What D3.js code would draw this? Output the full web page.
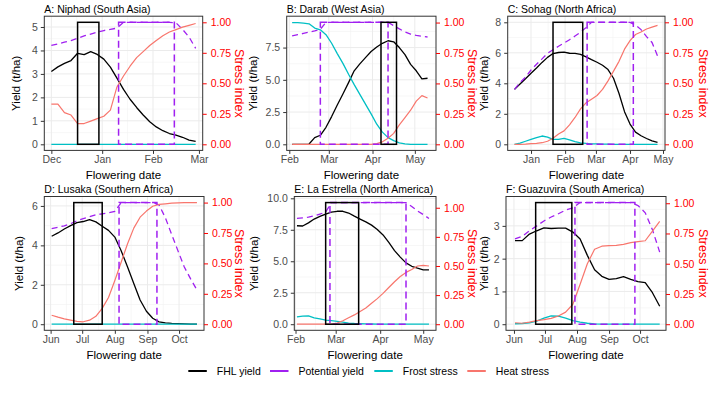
<!DOCTYPE html>
<html>
<head>
<meta charset="utf-8">
<script src="https://cdn.jsdelivr.net/npm/d3@7"></script>
<style>
  body { margin: 0; background: #fff; }
  svg { display: block; font-family: "Liberation Sans", Arial, sans-serif; }
</style>
</head>
<body>
<svg id="chart"></svg>
<script>
const width = 720;
const height = 396;

// ---- data ----
const titles = [
  'A: Niphad (South Asia)', 'B: Darab (West Asia)', 'C: Sohag (North Africa)',
  'D: Lusaka (Southern Africa)', 'E: La Estrella (North America)', 'F: Guazuvira (South America)'
];
const refDates = ['2000-12-01', '2001-02-01', '2001-01-01', '2001-06-01', '2001-02-01', '2001-06-01'];
// first flowering date (days after ref date) and spacing of the series, in days
const dataStart = [0, 2, -15, 1, 1, 1];
const dataStep = [4, 4, 5, 6, 4, 7];
// yield (t/ha) that corresponds to a stress index of 1
const stressScale = [5.2, 9.44, 8, 6.17, 9.25, 3.69];
const yTicks = [[0, 1, 2, 3, 4, 5], [0, 2.5, 5, 7.5], [0, 2, 4, 6, 8], [0, 2, 4, 6], [0, 2.5, 5, 7.5, 10], [0, 1, 2, 3]];
const stressTicks = [0, 0.25, 0.5, 0.75, 1];
const fhlWindows = [
  ['2000-12-17', '2000-12-30'], ['2001-04-07', '2001-04-18'], ['2001-01-21', '2001-02-17'],
  ['2001-06-23', '2001-07-20'], ['2001-02-22', '2001-03-17'], ['2001-06-22', '2001-07-27']
];
const potWindows = [
  ['2001-01-11', '2001-02-14'], ['2001-02-23', '2001-04-12'], ['2001-02-21', '2001-04-04'],
  ['2001-08-05', '2001-09-10'], ['2001-02-25', '2001-04-19'], ['2001-07-30', '2001-09-26']
];
const seriesNames = ['FHL yield', 'Potential yield', 'Frost stress', 'Heat stress'];

const fhlA = [3.1, 3.3, 3.45, 3.57, 3.88, 3.82, 3.95, 3.83, 3.63, 3.29, 2.82, 2.34, 1.92, 1.57, 1.25, 0.96, 0.74, 0.58, 0.46, 0.39, 0.3, 0.18, 0.12];
const potA = [4.22, 4.28, 4.35, 4.42, 4.52, 4.62, 4.7, 4.78, 4.85, 4.9, 4.95, 5.2, 5.2, 5.2, 5.2, 5.2, 5.2, 5.2, 5.2, 5.18, 4.9, 4.57, 4.09];
const frostA = [0, 0, 0, 0, 0, 0, 0, 0, 0, 0, 0, 0, 0, 0, 0, 0, 0, 0, 0, 0, 0, 0, 0];
const heatA = [0.33, 0.33, 0.26, 0.24, 0.17, 0.17, 0.19, 0.21, 0.23, 0.28, 0.47, 0.56, 0.64, 0.71, 0.76, 0.81, 0.85, 0.89, 0.92, 0.94, 0.96, 0.975, 0.99];

const fhlB = [0, 0, 0, 0.02, 0.52, 0.7, 1.32, 2.15, 3.05, 3.9, 4.78, 5.7, 6.24, 6.72, 7.2, 7.55, 7.83, 8.03, 7.95, 7.5, 6.95, 6.2, 5.7, 5.07, 5.12];
const potB = [8.4, 8.5, 8.6, 8.7, 8.8, 8.92, 9.46, 9.46, 9.46, 9.46, 9.46, 9.46, 9.46, 9.46, 9.46, 9.46, 9.46, 9.46, 9.2, 8.95, 8.72, 8.55, 8.45, 8.38, 8.32];
const frostB = [1, 1, 0.995, 0.99, 0.955, 0.94, 0.9, 0.83, 0.745, 0.665, 0.575, 0.49, 0.41, 0.33, 0.25, 0.165, 0.1, 0.055, 0.03, 0.012, 0.004, 0, 0, 0, 0];
const heatB = [0, 0, 0, 0, 0, 0, 0, 0, 0, 0, 0, 0, 0, 0, 0, 0.005, 0.02, 0.05, 0.09, 0.16, 0.22, 0.28, 0.355, 0.4, 0.38];

const fhlC = [3.6, 3.95, 4.3, 4.66, 5.0, 5.37, 5.7, 5.95, 6.02, 6.05, 5.97, 5.96, 5.9, 5.73, 5.55, 5.38, 5.18, 4.9, 4.33, 3.33, 2.14, 1.33, 0.8, 0.56, 0.38, 0.22, 0.12];
const potC = [3.6, 4.05, 4.4, 4.87, 5.25, 5.6, 5.97, 6.2, 6.43, 6.64, 6.86, 7.1, 7.35, 7.65, 8, 8, 8, 8, 8, 8, 8, 8, 7.82, 7.52, 7.06, 6.68, 5.8];
const frostC = [0, 0.01, 0.025, 0.04, 0.055, 0.068, 0.058, 0.04, 0.04, 0.048, 0.036, 0.022, 0.012, 0.007, 0.004, 0.003, 0.002, 0.001, 0, 0, 0, 0, 0, 0, 0, 0, 0];
const heatC = [0, 0, 0.002, 0.005, 0.008, 0.013, 0.025, 0.05, 0.085, 0.11, 0.16, 0.22, 0.29, 0.34, 0.37, 0.4, 0.45, 0.52, 0.6, 0.68, 0.78, 0.85, 0.9, 0.92, 0.945, 0.96, 0.975];

const fhlD = [4.46, 4.63, 4.83, 5.0, 5.15, 5.21, 5.31, 5.19, 4.97, 4.76, 4.42, 3.73, 2.92, 2.07, 1.23, 0.66, 0.3, 0.12, 0.07, 0.04, 0.025, 0.015, 0.005, 0];
const potD = [4.85, 4.92, 4.99, 5.1, 5.25, 5.36, 5.45, 5.55, 5.6, 5.65, 5.72, 6.17, 6.17, 6.17, 6.17, 6.17, 6.17, 6.05, 5.4, 4.55, 3.72, 2.9, 2.3, 1.74];
const frostD = [0, 0, 0, 0, 0, 0, 0, 0, 0, 0, 0, 0, 0, 0, 0, 0, 0, 0, 0, 0, 0, 0, 0, 0];
const heatD = [0.074, 0.058, 0.044, 0.034, 0.024, 0.02, 0.033, 0.065, 0.13, 0.22, 0.36, 0.51, 0.66, 0.79, 0.88, 0.93, 0.97, 0.985, 0.99, 0.995, 0.997, 1, 1, 1];

const fhlE = [7.82, 7.8, 8.05, 8.35, 8.56, 8.75, 8.9, 8.97, 8.97, 8.83, 8.58, 8.35, 8.13, 7.87, 7.52, 7.09, 6.5, 5.85, 5.33, 4.87, 4.6, 4.45, 4.32, 4.32];
const potE = [8.4, 8.45, 8.5, 8.6, 8.75, 8.9, 9.66, 9.66, 9.66, 9.66, 9.66, 9.66, 9.66, 9.66, 9.66, 9.66, 9.66, 9.66, 9.66, 9.66, 9.35, 9.0, 8.71, 8.4];
const frostE = [0.063, 0.07, 0.072, 0.055, 0.045, 0.035, 0.03, 0.024, 0.018, 0.01, 0.006, 0.004, 0.003, 0.002, 0.001, 0, 0, 0, 0, 0, 0, 0, 0, 0];
const heatE = [0, 0, 0, 0, 0, 0, 0.002, 0.01, 0.03, 0.055, 0.08, 0.11, 0.14, 0.18, 0.22, 0.265, 0.315, 0.365, 0.41, 0.445, 0.47, 0.5, 0.505, 0.5];

const fhlF = [2.55, 2.55, 2.75, 2.85, 2.94, 2.92, 2.93, 2.93, 2.81, 2.6, 2.1, 1.66, 1.46, 1.37, 1.39, 1.45, 1.37, 1.3, 1.27, 0.96, 0.55];
const potF = [2.6, 2.68, 2.85, 3.0, 3.15, 3.27, 3.37, 3.48, 3.55, 3.71, 3.71, 3.71, 3.71, 3.71, 3.71, 3.71, 3.71, 3.62, 3.4, 2.88, 2.2];
const frostF = [0.004, 0.006, 0.012, 0.025, 0.05, 0.068, 0.066, 0.05, 0.03, 0.018, 0.008, 0.003, 0.001, 0, 0, 0, 0, 0, 0, 0, 0];
const heatF = [0.012, 0.008, 0.018, 0.03, 0.038, 0.048, 0.068, 0.1, 0.165, 0.33, 0.5, 0.62, 0.645, 0.65, 0.652, 0.66, 0.674, 0.683, 0.69, 0.77, 0.85];

const fhl = [fhlA, fhlB, fhlC, fhlD, fhlE, fhlF];
const pot = [potA, potB, potC, potD, potE, potF];
const frost = [frostA, frostB, frostC, frostD, frostE, frostF];
const heat = [heatA, heatB, heatC, heatD, heatE, heatF];

// ---- layout ----
const row1 = {y0: 16.2, y1: 150.4};
const row2 = {y0: 196.5, y1: 330.3};
// panel box in px, x extent in days after the ref date, axis title positions
const layout = [
  {x0: 44.3, x1: 202.7, ...row1, lo: -4.3, hi: 92.3, yTitle: 16, sTitle: 239},
  {x0: 286.7, x1: 436, ...row1, lo: -1.85, hi: 104, yTitle: 253, sTitle: 472},
  {x0: 507.7, x1: 665, ...row1, lo: -21.2, hi: 121.8, yTitle: 484, sTitle: 703},
  {x0: 44.3, x1: 204, ...row2, lo: -6, hi: 145.7, yTitle: 19, sTitle: 239},
  {x0: 294.3, x1: 436, ...row2, lo: -0.85, hi: 97.9, yTitle: 254, sTitle: 472},
  {x0: 506, x1: 666, ...row2, lo: -7.7, hi: 147.1, yTitle: 484, sTitle: 703}
];
const colors = ['#000000', '#A020F0', '#00BFC4', '#F8766D'];
const lineWidths = [1.3, 1.3, 1.3, 1.2];
const legendX = [188.3, 270, 374.3, 467.3];
const legendY = 371;

const parse = d3.timeParse('%Y-%m-%d');
const shift = (date, days) => new Date(date.getTime() + days * 864e5);

const chart = d3.select('#chart')
  .attr('width', width)
  .attr('height', height);

chart.append('rect')
  .attr('width', width)
  .attr('height', height)
  .attr('fill', '#fff');

layout.forEach((L, i) => {
  const ref = parse(refDates[i]);
  const top = d3.max(pot[i]);
  const k = stressScale[i];

  const x = d3.scaleTime()
    .domain([shift(ref, L.lo), shift(ref, L.hi)])
    .range([L.x0, L.x1]);
  const y = d3.scaleLinear()
    .domain([-0.05 * top, 1.05 * top])
    .range([L.y1, L.y0]);
  const yStress = d3.scaleLinear()
    .domain(y.domain().map(v => v / k))
    .range([L.y1, L.y0]);

  const g = chart.append('g');

  // grid (theme_bw style)
  const months = x.ticks(d3.timeMonth.every(1));
  const xMinor = d3.pairs(months).map(([a, b]) => new Date((a.getTime() + b.getTime()) / 2));
  const yt = yTicks[i];
  const yStep = yt[1] - yt[0];
  const yMinor = [yt[0] - yStep / 2, ...yt.map(v => v + yStep / 2)]
    .filter(v => v > y.domain()[0] && v < y.domain()[1]);

  g.selectAll('.xminor').data(xMinor).enter().append('line')
    .attr('x1', d => x(d)).attr('x2', d => x(d))
    .attr('y1', L.y0).attr('y2', L.y1)
    .attr('stroke', '#F2F2F2').attr('stroke-width', 0.6);
  g.selectAll('.yminor').data(yMinor).enter().append('line')
    .attr('x1', L.x0).attr('x2', L.x1)
    .attr('y1', d => y(d)).attr('y2', d => y(d))
    .attr('stroke', '#F2F2F2').attr('stroke-width', 0.6);
  g.selectAll('.xmajor').data(months).enter().append('line')
    .attr('x1', d => x(d)).attr('x2', d => x(d))
    .attr('y1', L.y0).attr('y2', L.y1)
    .attr('stroke', '#EBEBEB').attr('stroke-width', 1);
  g.selectAll('.ymajor').data(yt).enter().append('line')
    .attr('x1', L.x0).attr('x2', L.x1)
    .attr('y1', d => y(d)).attr('y2', d => y(d))
    .attr('stroke', '#EBEBEB').attr('stroke-width', 1);

  // series
  const dates = fhl[i].map((_, j) => shift(ref, dataStart[i] + j * dataStep[i]));
  const yieldLine = d3.line().x((d, j) => x(dates[j])).y(d => y(d));
  const stressLine = d3.line().x((d, j) => x(dates[j])).y(d => yStress(d));

  g.append('path').datum(fhl[i])
    .attr('d', yieldLine)
    .attr('fill', 'none').attr('stroke', colors[0]).attr('stroke-width', lineWidths[0])
    .attr('stroke-linejoin', 'round');
  g.append('path').datum(pot[i])
    .attr('d', yieldLine)
    .attr('fill', 'none').attr('stroke', colors[1]).attr('stroke-width', lineWidths[1])
    .attr('stroke-dasharray', '6,4');
  g.append('path').datum(frost[i])
    .attr('d', stressLine)
    .attr('fill', 'none').attr('stroke', colors[2]).attr('stroke-width', lineWidths[2])
    .attr('stroke-linejoin', 'round');
  g.append('path').datum(heat[i])
    .attr('d', stressLine)
    .attr('fill', 'none').attr('stroke', colors[3]).attr('stroke-width', lineWidths[3])
    .attr('stroke-linejoin', 'round');

  // flowering windows
  const fw = fhlWindows[i].map(parse);
  const pw = potWindows[i].map(parse);
  g.append('rect')
    .attr('x', x(pw[0])).attr('width', x(pw[1]) - x(pw[0]))
    .attr('y', y(top)).attr('height', y(0) - y(top))
    .attr('fill', 'none').attr('stroke', colors[1]).attr('stroke-width', 1.5)
    .attr('stroke-dasharray', '7,4');
  g.append('rect')
    .attr('x', x(fw[0])).attr('width', x(fw[1]) - x(fw[0]))
    .attr('y', y(top)).attr('height', y(0) - y(top))
    .attr('fill', 'none').attr('stroke', colors[0]).attr('stroke-width', 1.5);

  // panel border
  g.append('rect')
    .attr('x', L.x0).attr('y', L.y0)
    .attr('width', L.x1 - L.x0).attr('height', L.y1 - L.y0)
    .attr('fill', 'none').attr('stroke', '#333333').attr('stroke-width', 1);

  // axes
  const fmt = yt.some(v => v % 1) ? d3.format('.1f') : d3.format('d');
  const left = g.append('g')
    .attr('transform', `translate(${L.x0},0)`)
    .call(d3.axisLeft(y).tickValues(yt).tickFormat(fmt).tickSizeInner(3.5).tickSizeOuter(0).tickPadding(3));
  const right = g.append('g')
    .attr('transform', `translate(${L.x1},0)`)
    .call(d3.axisRight(yStress).tickValues(stressTicks).tickFormat(d3.format('.2f')).tickSizeInner(4).tickSizeOuter(0).tickPadding(4));
  const bottom = g.append('g')
    .attr('transform', `translate(0,${L.y1})`)
    .call(d3.axisBottom(x).ticks(d3.timeMonth.every(1)).tickFormat(d3.timeFormat('%b')).tickSizeInner(3.5).tickSizeOuter(0).tickPadding(2));

  [left, right, bottom].forEach(ax => {
    ax.select('.domain').remove();
    ax.attr('font-family', null).attr('font-size', null);
    ax.selectAll('text').attr('font-size', 10.5);
  });
  left.selectAll('line').attr('stroke', '#333333');
  left.selectAll('text').attr('fill', '#4D4D4D');
  bottom.selectAll('line').attr('stroke', '#333333');
  bottom.selectAll('text').attr('fill', '#4D4D4D');
  right.selectAll('line').attr('stroke', '#FF0000');
  right.selectAll('text').attr('fill', '#FF0000');

  // titles
  g.append('text')
    .attr('x', L.x0).attr('y', L.y0 - 3.5)
    .attr('font-size', 10.5)
    .text(titles[i]);
  g.append('text')
    .attr('x', (L.x0 + L.x1) / 2).attr('y', L.y1 + 29)
    .attr('text-anchor', 'middle').attr('font-size', 11.5)
    .text('Flowering date');
  g.append('text')
    .attr('transform', `translate(${L.yTitle},${(L.y0 + L.y1) / 2}) rotate(-90)`)
    .attr('text-anchor', 'middle').attr('dy', '0.35em').attr('font-size', 11.5)
    .text('Yield (t/ha)');
  g.append('text')
    .attr('transform', `translate(${L.sTitle},${(L.y0 + L.y1) / 2}) rotate(90)`)
    .attr('text-anchor', 'middle').attr('dy', '0.35em').attr('font-size', 12.5)
    .attr('fill', '#FF0000')
    .text('Stress index');
});

// legend
const legend = chart.append('g');
seriesNames.forEach((name, i) => {
  legend.append('line')
    .attr('x1', legendX[i]).attr('x2', legendX[i] + 18.5)
    .attr('y1', legendY).attr('y2', legendY)
    .attr('stroke', colors[i]).attr('stroke-width', 2);
  legend.append('text')
    .attr('x', legendX[i] + 28.5).attr('y', legendY)
    .attr('dy', '0.35em').attr('font-size', 10.5)
    .text(name);
});
</script>
</body>
</html>
